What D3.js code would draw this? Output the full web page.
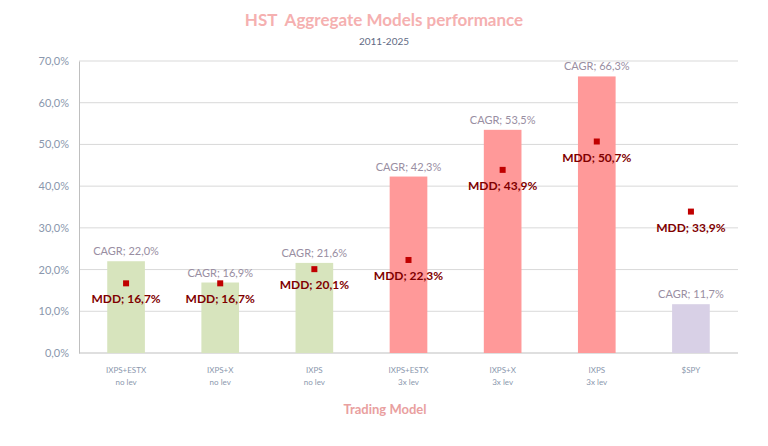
<!DOCTYPE html>
<html><head><meta charset="utf-8">
<script src="https://cdnjs.cloudflare.com/ajax/libs/d3/7.8.5/d3.min.js"></script>
<style>body{margin:0;background:#fff}svg{display:block;font-family:Lato,"Open Sans",sans-serif}</style>
</head><body><svg id="c" width="768" height="446"></svg>
<script>
const categories = ["IXPS+ESTX|no lev","IXPS+X|no lev","IXPS|no lev","IXPS+ESTX|3x lev","IXPS+X|3x lev","IXPS|3x lev","$SPY"];
const cagr = [22.0, 16.9, 21.6, 42.3, 53.5, 66.3, 11.7];
const mdd = [16.7, 16.7, 20.1, 22.3, 43.9, 50.7, 33.9];
const groups = ["nolev","nolev","nolev","lev","lev","lev","spy"];
const yTicks = [0,10,20,30,40,50,60,70];

(function(){
const svg = d3.select("#c");
const pl = 79, pr = 738, pt = 61, pb = 353;
const x = d3.scaleBand().domain(categories).range([pl, pr]).padding(0);
const y = d3.scaleLinear().domain([0,70]).range([pb, pt]);
const colors = {nolev:"#d7e4bd", lev:"#ff9999", spy:"#d8d0e6"};
const fmt = v => v.toFixed(1).replace(".", ",") + "%";

svg.append("g").selectAll("line").data(yTicks.filter(d=>d>0)).join("line")
  .attr("x1", pl).attr("x2", pr).attr("y1", d=>y(d)).attr("y2", d=>y(d))
  .attr("stroke", "#d9d9d9").attr("stroke-width", 1);

const yAxis = d3.axisLeft(y).tickValues(yTicks).tickSize(0).tickPadding(10).tickFormat(d => d.toFixed(1).replace(".", ",") + "%");
const ya = svg.append("g").attr("transform", `translate(${pl},0)`).call(yAxis);
ya.select(".domain").attr("stroke", "#bfbfbf");
ya.selectAll("text").attr("fill", "#8a97ad").attr("font-size", 11).attr("font-family", "Lato, sans-serif");

svg.append("line").attr("x1", pl).attr("x2", pr).attr("y1", pb).attr("y2", pb).attr("stroke", "#bfbfbf");

const bw = x.bandwidth() * 0.4;
svg.append("g").selectAll("rect").data(categories).join("rect")
  .attr("x", (d)=>x(d) + (x.bandwidth()-bw)/2)
  .attr("width", bw)
  .attr("y", (d,i)=>y(cagr[i]))
  .attr("height", (d,i)=>y(0)-y(cagr[i]))
  .attr("fill", (d,i)=>colors[groups[i]]);

svg.append("g").selectAll("text").data(categories).join("text")
  .attr("x", d=>x(d)+x.bandwidth()/2)
  .attr("y", (d,i)=>y(cagr[i]) - 6)
  .attr("text-anchor", "middle")
  .attr("font-size", 11)
  .attr("fill", "#998ea2")
  .text((d,i)=>"CAGR; " + fmt(cagr[i]));

svg.append("g").selectAll("rect").data(categories).join("rect")
  .attr("x", d=>x(d)+x.bandwidth()/2 - 3)
  .attr("y", (d,i)=>y(mdd[i]) - 3)
  .attr("width", 6).attr("height", 6)
  .attr("fill", "#c00000");

svg.append("g").selectAll("text").data(categories).join("text")
  .attr("x", d=>x(d)+x.bandwidth()/2)
  .attr("y", (d,i)=>y(mdd[i]) + 20)
  .attr("text-anchor", "middle")
  .attr("font-size", 12).attr("font-weight", "bold")
  .attr("fill", "#7f0000")
  .text((d,i)=>"MDD; " + fmt(mdd[i]));

const cl = svg.append("g").selectAll("text").data(categories).join("text")
  .attr("text-anchor", "middle")
  .attr("font-size", 8)
  .attr("fill", "#8a97ad");
cl.each(function(d){
  const parts = d.split("|");
  const t = d3.select(this);
  parts.forEach((p,k)=>{
    t.append("tspan").attr("x", x(d)+x.bandwidth()/2).attr("y", 373 + k*12).text(p);
  });
});

svg.append("text").attr("x", 384).attr("y", 26).attr("text-anchor","middle")
  .attr("font-size", 17).attr("font-weight", "bold").attr("fill", "#f5b0b0").style("white-space","pre")
  .text("HST  Aggregate Models performance");
svg.append("text").attr("x", 384).attr("y", 45).attr("text-anchor","middle")
  .attr("font-size", 10).attr("fill", "#5f6a84").text("2011-2025");
svg.append("text").attr("x", 385).attr("y", 414).attr("text-anchor","middle")
  .attr("font-size", 13).attr("font-weight", "bold").attr("fill", "#e9a0a0").text("Trading Model");
})();
</script></body></html>
